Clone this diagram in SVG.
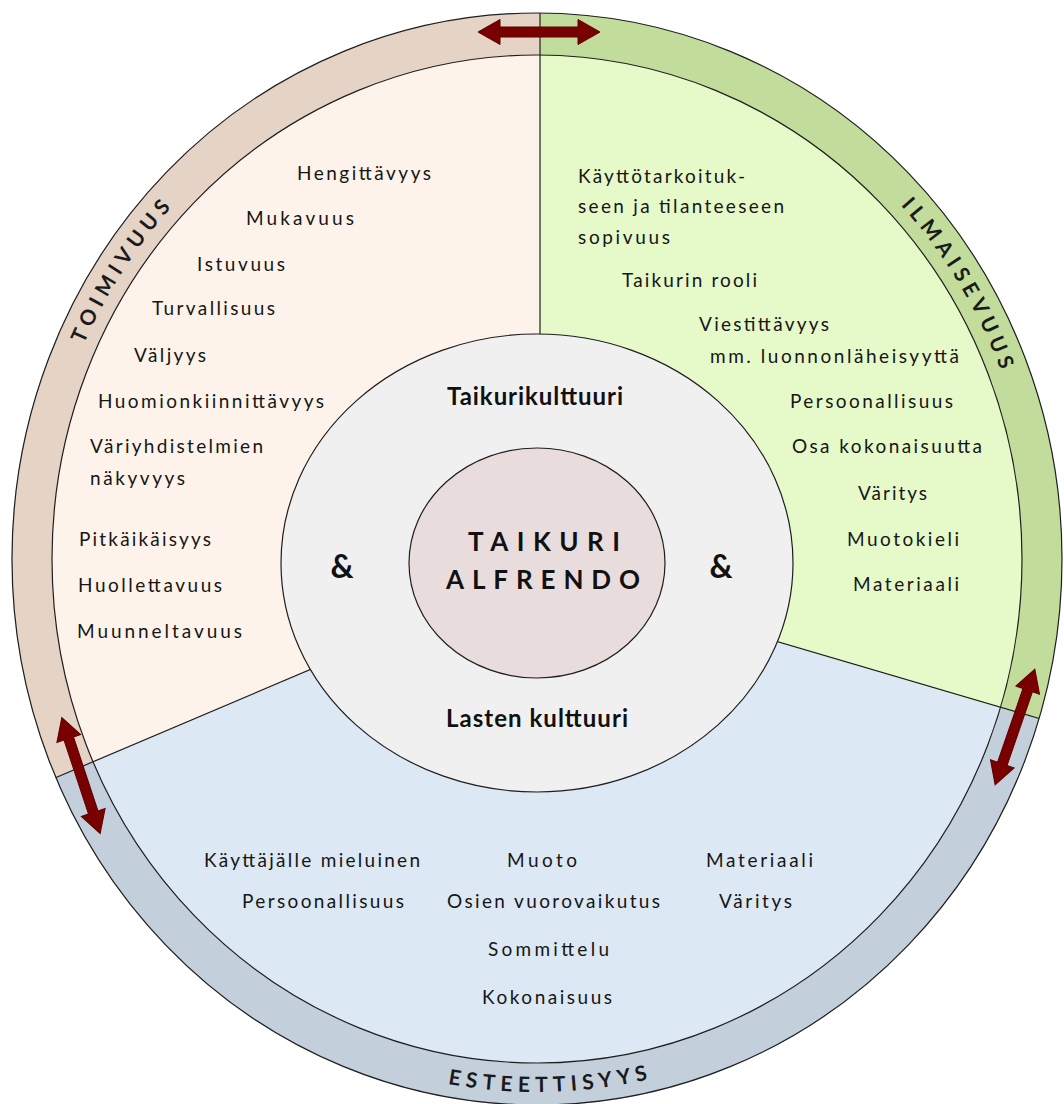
<svg xmlns="http://www.w3.org/2000/svg" width="1064" height="1104" viewBox="0 0 1064 1104">
<style>
.edge{stroke:#1e1e1e;stroke-width:1.2;fill:none}
.item{font-family:Lato,"Open Sans","Liberation Sans",sans-serif;font-size:19px;fill:#161616}
.band{font-family:Lato,"Open Sans","Liberation Sans",sans-serif;font-size:21px;font-weight:700;fill:#1a1a1a;letter-spacing:5.5px}
.bold{font-family:Lato,"Open Sans","Liberation Sans",sans-serif;font-size:24px;font-weight:700;fill:#111}
.title{font-family:Lato,"Open Sans","Liberation Sans",sans-serif;font-size:26px;font-weight:700;fill:#111}
.amp{font-family:Lato,"Open Sans","Liberation Sans",sans-serif;font-size:32px;font-weight:700;fill:#111}
.arrow{fill:#780000;stroke:#5c0000;stroke-width:1}
</style>
<defs>
<path id="arr" d="M-61 0 L-39 -12.5 L-39 -5 L39 -5 L39 -12.5 L61 0 L39 12.5 L39 5 L-39 5 L-39 12.5 Z"/>
<path id="p-toim" d="M 53.8 433.7 A 498 518 0 0 1 244.3 139.9"/>
<path id="p-ilma" d="M 843.6 150.8 A 498 518 0 0 1 1024.1 451.3"/>
<path id="p-este" d="M 59.7 754.3 A 513 533 0 0 0 1023.5 728.1"/>
</defs>
<rect x="0" y="0" width="1064" height="1104" fill="#ffffff"/>

<g id="toimivuus">
<path d="M 540 13 A 525 546 0 0 0 55.5 777.7 L 93 762 A 485 504 0 0 1 540 55 Z" fill="#e5d3c5"/>
<path d="M 540 55 A 485 504 0 0 0 93 762 L 540 572 Z" fill="#fdf3ea"/>
<text class="band"><textPath href="#p-toim" startOffset="50%" text-anchor="middle">TOIMIVUUS</textPath></text>
<text class="item" x="297" y="179.5" textLength="134" lengthAdjust="spacing">Hengittävyys</text>
<text class="item" x="246" y="225" textLength="108" lengthAdjust="spacing">Mukavuus</text>
<text class="item" x="197" y="271" textLength="88" lengthAdjust="spacing">Istuvuus</text>
<text class="item" x="152" y="315" textLength="123" lengthAdjust="spacing">Turvallisuus</text>
<text class="item" x="134" y="362" textLength="72" lengthAdjust="spacing">Väljyys</text>
<text class="item" x="98" y="408" textLength="226" lengthAdjust="spacing">Huomionkiinnittävyys</text>
<text class="item" x="90" y="453" textLength="173" lengthAdjust="spacing">Väriyhdistelmien</text>
<text class="item" x="90" y="485" textLength="95" lengthAdjust="spacing">näkyvyys</text>
<text class="item" x="79" y="545.5" textLength="132" lengthAdjust="spacing">Pitkäikäisyys</text>
<text class="item" x="78" y="592" textLength="144" lengthAdjust="spacing">Huollettavuus</text>
<text class="item" x="77" y="638" textLength="165" lengthAdjust="spacing">Muunneltavuus</text>
</g>

<g id="ilmaisevuus">
<path d="M 540 13 A 525 546 0 0 1 1039.1 718.5 L 1000.3 708.2 A 485 504 0 0 0 540 55 Z" fill="#c2dc9b"/>
<path d="M 540 55 A 485 504 0 0 1 1000.3 708.2 L 540 572 Z" fill="#e5f9c9"/>
<text class="band"><textPath href="#p-ilma" startOffset="50%" text-anchor="middle">ILMAISEVUUS</textPath></text>
<text class="item" x="578" y="183" textLength="167" lengthAdjust="spacing">Käyttötarkoituk-</text>
<text class="item" x="578" y="213" textLength="206" lengthAdjust="spacing">seen ja tilanteeseen</text>
<text class="item" x="578" y="244" textLength="92" lengthAdjust="spacing">sopivuus</text>
<text class="item" x="622" y="286.5" textLength="135" lengthAdjust="spacing">Taikurin rooli</text>
<text class="item" x="699" y="331" textLength="130" lengthAdjust="spacing">Viestittävyys</text>
<text class="item" x="710" y="363" textLength="249" lengthAdjust="spacing">mm. luonnonläheisyyttä</text>
<text class="item" x="790" y="408" textLength="163" lengthAdjust="spacing">Persoonallisuus</text>
<text class="item" x="792" y="453" textLength="190" lengthAdjust="spacing">Osa kokonaisuutta</text>
<text class="item" x="858" y="500" textLength="69" lengthAdjust="spacing">Väritys</text>
<text class="item" x="847" y="545.5" textLength="112" lengthAdjust="spacing">Muotokieli</text>
<text class="item" x="853" y="591" textLength="106" lengthAdjust="spacing">Materiaali</text>
</g>

<g id="esteettisyys">
<path d="M 1039.1 718.5 A 525 546 0 0 1 55.5 777.7 L 93 762 A 485 504 0 0 0 1000.3 708.2 Z" fill="#c3cfda"/>
<path d="M 1000.3 708.2 A 485 504 0 0 1 93 762 L 540 572 Z" fill="#dce8f4"/>
<text class="band"><textPath href="#p-este" startOffset="50%" text-anchor="middle">ESTEETTISYYS</textPath></text>
<text class="item" x="204" y="866.5" textLength="216" lengthAdjust="spacing">Käyttäjälle mieluinen</text>
<text class="item" x="507" y="866.5" textLength="70" lengthAdjust="spacing">Muoto</text>
<text class="item" x="706" y="866.5" textLength="107" lengthAdjust="spacing">Materiaali</text>
<text class="item" x="242" y="908" textLength="162" lengthAdjust="spacing">Persoonallisuus</text>
<text class="item" x="447" y="908" textLength="213" lengthAdjust="spacing">Osien vuorovaikutus</text>
<text class="item" x="719" y="908" textLength="73" lengthAdjust="spacing">Väritys</text>
<text class="item" x="488" y="956" textLength="121" lengthAdjust="spacing">Sommittelu</text>
<text class="item" x="482" y="1004" textLength="130" lengthAdjust="spacing">Kokonaisuus</text>
</g>

<g id="outlines">
<ellipse class="edge" cx="537" cy="559" rx="525" ry="546"/>
<ellipse class="edge" cx="537" cy="559" rx="485" ry="504"/>
<line class="edge" x1="540" y1="13" x2="540" y2="572"/>
<line class="edge" x1="55.5" y1="777.7" x2="540" y2="572"/>
<line class="edge" x1="1039.1" y1="718.5" x2="540" y2="572"/>
</g>

<g id="kulttuurit">
<ellipse cx="537" cy="563" rx="256" ry="229" fill="#f0f0f0" stroke="#1e1e1e" stroke-width="1.2"/>
<text class="bold" x="447" y="405" textLength="176" lengthAdjust="spacing">Taikurikulttuuri</text>
<text class="bold" x="446" y="727" textLength="182" lengthAdjust="spacing">Lasten kulttuuri</text>
<text class="amp" x="342" y="578" text-anchor="middle">&amp;</text>
<text class="amp" x="721" y="578" text-anchor="middle">&amp;</text>
</g>

<g id="taikuri-alfrendo">
<ellipse cx="537" cy="563" rx="128" ry="115" fill="#e9dcdc" stroke="#1e1e1e" stroke-width="1.2"/>
<text class="title" x="468" y="551" textLength="152" lengthAdjust="spacing">TAIKURI</text>
<text class="title" x="446" y="589" textLength="194" lengthAdjust="spacing">ALFRENDO</text>
</g>

<g id="connectors">
<use href="#arr" class="arrow" transform="translate(539 32)"/>
<use href="#arr" class="arrow" transform="translate(81 775.5) rotate(71.7)"/>
<use href="#arr" class="arrow" transform="translate(1015 727) rotate(109)"/>
</g>
</svg>
